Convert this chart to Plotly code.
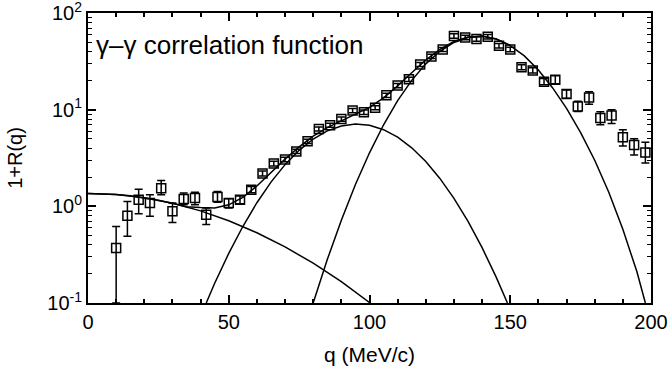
import plotly.graph_objects as go

# 측정 데이터 (q in MeV/c)
q = [10, 14, 18, 22, 26, 30, 34, 38, 42, 46, 50, 54, 58, 62, 66, 70, 74, 78,
     82, 86, 90, 94, 98, 102, 106, 110, 114, 118, 122, 126, 130, 134, 138,
     142, 146, 150, 154, 158, 162, 166, 170, 174, 178, 182, 186, 190, 194, 198]
r = [0.37, 0.80, 1.17, 1.08, 1.54, 0.89, 1.19, 1.22, 0.82, 1.25, 1.08, 1.17,
     1.48, 2.19, 2.77, 3.05, 3.70, 4.70, 6.30, 6.90, 8.0, 9.8, 9.4, 10.5,
     14.1, 17.8, 20.6, 29.3, 35.6, 42.0, 58, 56, 54, 57, 46, 42, 27.5, 25.5,
     19.5, 20.4, 14.5, 10.8, 13.4, 8.2, 8.7, 5.2, 4.3, 3.6]
r_hi = [0.62, 1.12, 1.50, 1.32, 1.85, 1.08, 1.37, 1.40, 0.96, 1.42, 1.20, 1.28,
        1.60, 2.32, 2.93, 3.22, 3.90, 4.95, 6.62, 7.25, 8.4, 10.3, 9.9, 11.0,
        14.8, 18.7, 21.6, 30.8, 37.4, 44.1, 61, 59, 57, 60, 48.5, 44.3, 29.2,
        27.2, 21.0, 22.4, 16.0, 12.2, 15.3, 9.5, 10.0, 6.2, 5.0, 4.6]
r_lo = [0.10, 0.49, 0.84, 0.79, 1.32, 0.68, 1.04, 1.04, 0.65, 1.10, 0.96, 1.06,
        1.38, 2.06, 2.62, 2.89, 3.51, 4.46, 6.0, 6.57, 7.6, 9.3, 8.9, 10.0,
        13.4, 16.9, 19.6, 27.9, 33.9, 40.0, 55, 53, 51, 54, 43.6, 39.8, 25.9,
        23.9, 18.1, 18.6, 13.1, 9.6, 11.4, 7.0, 7.2, 4.2, 3.4, 2.8]

# 피팅 곡선
q_c1 = [0, 10, 20, 30, 40, 50, 60, 70, 80, 90, 100]
c1 = [1.36, 1.325, 1.225, 1.076, 0.897, 0.710, 0.533, 0.380, 0.258, 0.166, 0.101]

q_c2 = [42, 45, 50, 55, 60, 65, 70, 75, 80, 85, 90, 95, 100, 105, 110, 115,
        120, 125, 130, 135, 140, 145, 149]
c2 = [0.100, 0.160, 0.326, 0.618, 1.089, 1.779, 2.70, 3.80, 4.97, 6.03, 6.79,
      7.10, 6.89, 6.21, 5.19, 4.03, 2.91, 1.945, 1.21, 0.697, 0.373, 0.185, 0.100]

q_c3 = [80, 85, 90, 95, 100, 105, 110, 115, 120, 125, 130, 135, 140, 145, 150,
        155, 160, 165, 170, 175, 180, 185, 190, 195, 198]
c3 = [0.100, 0.281, 0.719, 1.681, 3.58, 6.98, 12.39, 20.1, 29.8, 40.2, 49.6,
      55.8, 57.4, 53.8, 46.1, 36.0, 25.7, 16.9, 10.3, 5.8, 3.0, 1.4, 0.58,
      0.21, 0.100]

q_tot = [0, 5, 10, 15, 20, 25, 30, 35, 40, 45, 50, 55, 60, 65, 70, 75, 80, 85,
         90, 95, 100, 105, 110, 115, 120, 125, 130, 135, 140, 145, 150]
tot = [1.36, 1.351, 1.325, 1.283, 1.225, 1.156, 1.076, 0.990, 0.970, 0.963,
       1.036, 1.238, 1.622, 2.232, 3.08, 4.115, 5.33, 6.52, 7.68, 8.91, 10.57,
       13.27, 17.64, 24.13, 32.7, 42.1, 50.8, 56.5, 57.8, 54.0, 46.2]

y_ticks = [0.1, 1, 10, 100]
y_labels = ["10<sup>-1</sup>", "10<sup>0</sup>", "10<sup>1</sup>", "10<sup>2</sup>"]
# 로그축 보조 눈금 (2..9 x 10^n)
y_minor = [m * d for d in (0.1, 1, 10) for m in range(2, 10)]

line_style = dict(color="black", width=1.5)

fig = go.Figure()
for xs, ys in [(q_c1, c1), (q_c2, c2), (q_c3, c3), (q_tot, tot)]:
    fig.add_trace(go.Scatter(x=xs, y=ys, mode="lines", line=line_style,
                             showlegend=False, hoverinfo="skip"))

fig.add_trace(
    go.Scatter(
        x=q,
        y=r,
        mode="markers",
        marker=dict(symbol="square-open", size=9, color="black",
                    line=dict(width=1.5, color="black")),
        error_y=dict(
            type="data",
            symmetric=False,
            array=[h - v for h, v in zip(r_hi, r)],
            arrayminus=[v - l for v, l in zip(r, r_lo)],
            color="black",
            thickness=1.5,
            width=4,
        ),
        showlegend=False,
        hovertemplate="q = %{x}<br>1+R(q) = %{y}<extra></extra>",
    )
)

fig.add_annotation(
    x=0.01, y=0.89, xref="paper", yref="paper",
    text="γ–γ correlation function", showarrow=False,
    xanchor="left", yanchor="middle",
    font=dict(size=26, color="black"),
)
# 축 제목
fig.add_annotation(
    x=-0.13, y=0.5, xref="paper", yref="paper",
    text="1+R(q)", showarrow=False, textangle=-90,
    xanchor="center", yanchor="middle",
    font=dict(size=20, color="black"),
)
fig.add_annotation(
    x=0.5, y=-0.178, xref="paper", yref="paper",
    text="q (MeV/c)", showarrow=False,
    xanchor="center", yanchor="middle",
    font=dict(size=21, color="black"),
)

fig.update_layout(
    width=671,
    height=370,
    margin=dict(l=88, r=20, t=13, b=67),
    plot_bgcolor="white",
    paper_bgcolor="white",
    font=dict(family="Liberation Sans, Arial, sans-serif", color="black", size=21),
    xaxis=dict(
        range=[0, 200],
        tickvals=[0, 50, 100, 150, 200],
        ticks="inside",
        ticklen=8,
        tickwidth=1.5,
        tickcolor="black",
        minor=dict(dtick=10, ticks="inside", ticklen=4, tickcolor="black"),
        showline=True,
        linecolor="black",
        linewidth=2,
        mirror="ticks",
        showgrid=False,
        zeroline=False,
        automargin=False,
        ticklabeloverflow="allow",
        tickfont=dict(size=20),
    ),
    yaxis=dict(
        type="log",
        range=[-1.0005, 2.0005],
        tickvals=y_ticks,
        ticktext=y_labels,
        ticks="inside",
        ticklen=8,
        tickwidth=1.5,
        tickcolor="black",
        minor=dict(tickvals=y_minor, ticks="inside", ticklen=4,
                   tickwidth=1, tickcolor="black", showgrid=False),
        showline=True,
        linecolor="black",
        linewidth=2,
        mirror="ticks",
        showgrid=False,
        zeroline=False,
        automargin=False,
        ticklabeloverflow="allow",
        tickfont=dict(size=20),
    ),
)

# 브라우저 기본 body 여백(8px) 제거
fig.write_html("out.html", config={"displayModeBar": False},
               post_script="document.body.style.margin = '0';")
